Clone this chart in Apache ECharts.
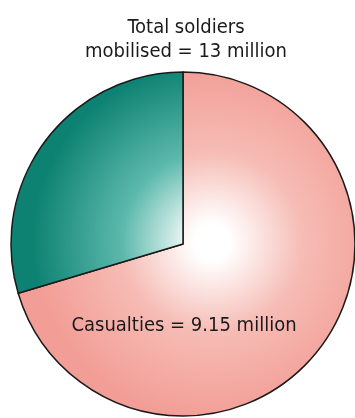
<!DOCTYPE html>
<html>
<head>
<meta charset="utf-8">
<style>
html,body{margin:0;padding:0;background:#fff;}
#c{width:355px;height:418px;}
</style>
<script src="https://cdn.jsdelivr.net/npm/echarts@6/dist/echarts.min.js"></script>
</head>
<body>
<div id="c"></div>
<script>
const totalMobilised = 13;
const categories = ['Casualties', 'Other'];
const values = [9.15, 13 - 9.15];
const titleLines = ['Total soldiers', 'mobilised = ' + totalMobilised + ' million'];
const casualtyLabel = 'Casualties = ' + values[0] + ' million';

const FONT = "'DejaVu Sans Condensed','Liberation Sans Narrow',sans-serif";

function grad(edge, mid) {
  return {
    type: 'radial', x: 212, y: 242, r: 180, global: true,
    colorStops: [
      {offset: 0, color: '#ffffff'},
      {offset: 0.1, color: '#ffffff'},
      {offset: 0.5, color: mid},
      {offset: 1, color: edge}
    ]
  };
}
const fills = [grad('#f29d95', '#f6bcb5'), grad('#0d8272', '#5cb9ac')];

const chart = echarts.init(document.getElementById('c'), null, {renderer: 'canvas'});
chart.setOption({
  animation: false,
  title: [
    {
      text: titleLines.join('\n'),
      left: 181, top: 11,
      textAlign: 'center',
      textStyle: {fontFamily: FONT, fontWeight: 'normal', fontSize: 20, lineHeight: 24, color: '#1a1a1a'}
    },
    {
      text: casualtyLabel,
      left: 179, top: 311,
      textAlign: 'center',
      textStyle: {fontFamily: FONT, fontWeight: 'normal', fontSize: 20, color: '#1a1a1a'}
    }
  ],
  series: [{
    type: 'pie',
    center: [183, 244],
    radius: 172,
    startAngle: 90,
    clockwise: true,
    label: {show: false},
    labelLine: {show: false},
    emphasis: {disabled: true},
    itemStyle: {borderColor: '#1a1a1a', borderWidth: 1.5},
    data: categories.map((n, i) => ({name: n, value: values[i], itemStyle: {color: fills[i]}}))
  }]
});
</script>
</body>
</html>
